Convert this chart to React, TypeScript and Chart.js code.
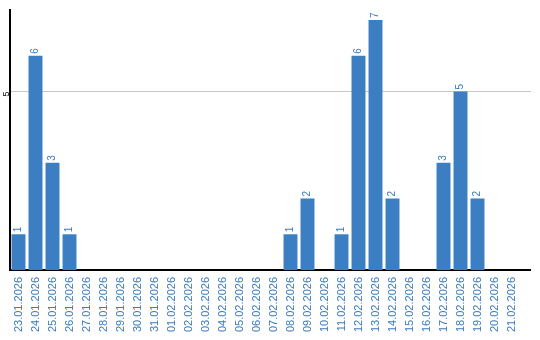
import React, { useEffect, useRef } from "react";
import { Chart, registerables } from "chart.js";

Chart.register(...registerables);

const categories = [
  "23.01.2026", "24.01.2026", "25.01.2026", "26.01.2026", "27.01.2026",
  "28.01.2026", "29.01.2026", "30.01.2026", "31.01.2026", "01.02.2026",
  "02.02.2026", "03.02.2026", "04.02.2026", "05.02.2026", "06.02.2026",
  "07.02.2026", "08.02.2026", "09.02.2026", "10.02.2026", "11.02.2026",
  "12.02.2026", "13.02.2026", "14.02.2026", "15.02.2026", "16.02.2026",
  "17.02.2026", "18.02.2026", "19.02.2026", "20.02.2026", "21.02.2026",
];
const values = [1, 6, 3, 1, 0, 0, 0, 0, 0, 0, 0, 0, 0, 0, 0, 0, 1, 2, 0, 1, 6, 7, 2, 0, 0, 3, 5, 2, 0, 0];
const yTicks = [5];
const yMax = 7.28;

const BLUE = "#3b7ec2";
const TEXT_BLUE = "#3a7bc0";

const valueLabels = {
  id: "valueLabels",
  afterDatasetsDraw(chart: any) {
    const ctx = chart.ctx;
    const meta = chart.getDatasetMeta(0);
    ctx.save();
    ctx.font = "10px 'Liberation Sans', Arial, sans-serif";
    ctx.fillStyle = TEXT_BLUE;
    ctx.textAlign = "left";
    ctx.textBaseline = "middle";
    meta.data.forEach((bar: any, i: number) => {
      const v = values[i];
      if (!v) return;
      ctx.save();
      ctx.translate(bar.x, bar.y - 2);
      ctx.rotate(-Math.PI / 2);
      ctx.fillText(String(v), 0, 0);
      ctx.restore();
    });
    ctx.restore();
  },
};

const extendedAxes = {
  id: "extendedAxes",
  afterDraw(chart: any) {
    const { ctx, chartArea } = chart;
    ctx.save();
    ctx.strokeStyle = "#c8c8c8";
    ctx.lineWidth = 1;
    const y5 = chart.scales.y.getPixelForValue(yTicks[0]);
    ctx.beginPath();
    ctx.moveTo(chartArea.right, Math.round(y5) + 0.5);
    ctx.lineTo(chartArea.right + 11, Math.round(y5) + 0.5);
    ctx.stroke();
    ctx.strokeStyle = "#000";
    ctx.lineWidth = 2;
    const yb = Math.round(chart.scales.x.top);
    ctx.beginPath();
    ctx.moveTo(chartArea.right - 1, yb);
    ctx.lineTo(chartArea.right + 11, yb);
    ctx.stroke();
    ctx.restore();
  },
};

export default function App() {
  const ref = useRef<HTMLCanvasElement>(null);
  useEffect(() => {
    document.body.style.margin = "0";
    const chart = new Chart(ref.current!, {
      type: "bar",
      data: {
        labels: categories,
        datasets: [
          {
            data: values,
            backgroundColor: BLUE,
            categoryPercentage: 1,
            barPercentage: 0.82,
          },
        ],
      },
      plugins: [valueLabels, extendedAxes],
      options: {
        animation: false,
        responsive: false,
        layout: { padding: { top: 10, right: 20, left: 0, bottom: 0 } },
        plugins: { legend: { display: false }, tooltip: { enabled: false } },
        scales: {
          x: {
            grid: { display: false, drawTicks: false },
            border: { color: "#000", width: 2 },
            afterFit: (scale: any) => {
              scale.height = 70;
            },
            ticks: {
              color: TEXT_BLUE,
              minRotation: 90,
              maxRotation: 90,
              autoSkip: false,
              padding: 7,
              font: { size: 11, family: "'Liberation Sans', Arial, sans-serif" },
            },
          },
          y: {
            min: 0,
            max: yMax,
            afterBuildTicks: (scale: any) => {
              scale.ticks = yTicks.map((v) => ({ value: v }));
            },
            afterFit: (scale: any) => {
              scale.width = 10;
            },
            grid: { color: "#c8c8c8", drawTicks: false, lineWidth: 1 },
            border: { color: "#000", width: 2 },
            ticks: {
              color: "#000",
              minRotation: 90,
              maxRotation: 90,
              padding: 3,
              font: { size: 9, family: "'Liberation Sans', Arial, sans-serif" },
            },
          },
        },
      },
    });
    return () => chart.destroy();
  }, []);
  return <canvas ref={ref} width={540} height={340} style={{ display: "block" }} />;
}
